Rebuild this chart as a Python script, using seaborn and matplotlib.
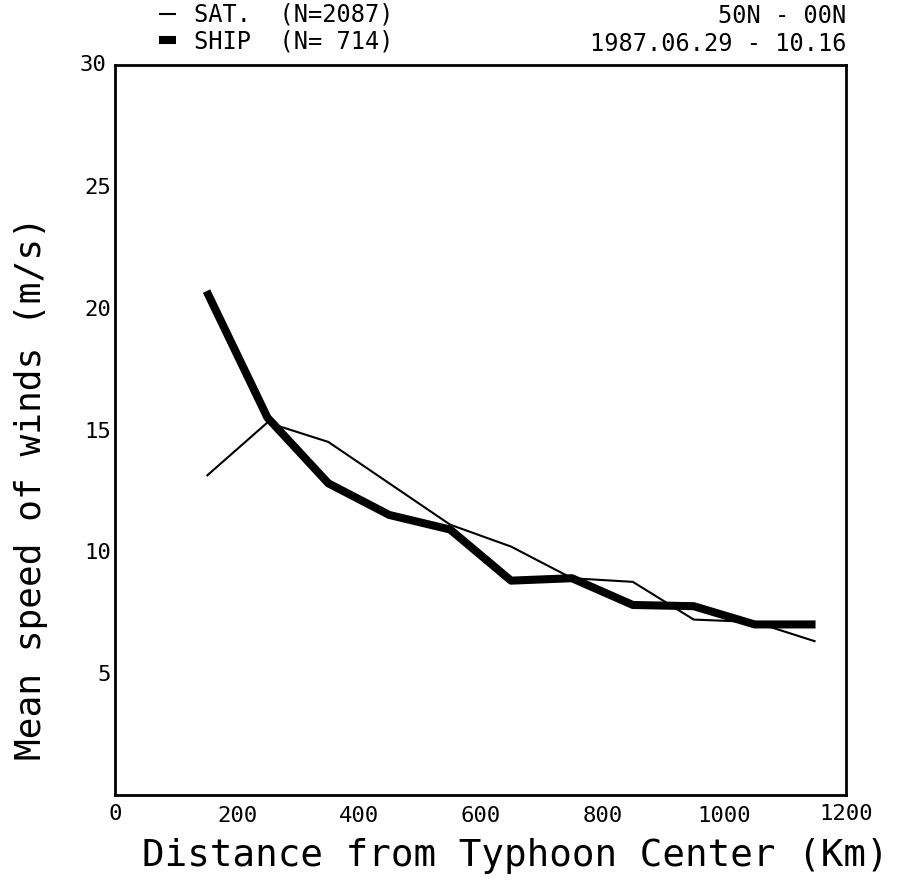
import matplotlib
matplotlib.use("Agg")
import matplotlib.pyplot as plt
import pandas as pd
import seaborn as sns

# mean wind speed vs distance from typhoon centre
distance_km = [150, 250, 350, 450, 550, 650, 750, 850, 950, 1050, 1150]
sat_speed = [13.1, 15.3, 14.5, 12.8, 11.1, 10.2, 8.9, 8.75, 7.2, 7.1, 6.3]
ship_speed = [20.7, 15.5, 12.8, 11.5, 10.9, 8.8, 8.9, 7.8, 7.75, 7.0, 7.0]

sat_label = "SAT.  (N=2087)"
ship_label = "SHIP  (N= 714)"
region_text = "50N - 00N"
period_text = "1987.06.29 - 10.16"

x_ticks = [200, 400, 600, 800, 1000]
x_ticklabels = ["200", "400", "600", "800", "1000"]
y_ticks = [5, 10, 15, 20, 25]

sns.set_theme(style="white")
plt.rcParams["font.family"] = ["DejaVu Sans Mono", "DejaVu Sans"]
plt.rcParams["text.color"] = "black"
plt.rcParams["axes.labelcolor"] = "black"
plt.rcParams["lines.solid_capstyle"] = "butt"

df = pd.DataFrame({"distance": distance_km, "sat": sat_speed, "ship": ship_speed})

fig = plt.figure(figsize=(9, 8.88), dpi=100)
ax = fig.add_axes([0.128, 0.105, 0.812, 0.822])

sns.lineplot(data=df, x="distance", y="sat", color="black", linewidth=1.5,
             label=sat_label, ax=ax)
sns.lineplot(data=df, x="distance", y="ship", color="black", linewidth=5.8,
             label=ship_label, ax=ax)

ax.set_xlim(0, 1200)
ax.set_ylim(0, 30)
ax.set_xticks(x_ticks)
ax.set_xticklabels(x_ticklabels)
ax.set_yticks(y_ticks)
ax.tick_params(axis="x", direction="in", length=20, width=1.5, labelsize=16, pad=8,
               colors="black")
ax.tick_params(axis="y", direction="in", length=14, width=1.5, labelsize=16, pad=3,
               colors="black")
for side in ["left", "right", "top", "bottom"]:
    ax.spines[side].set_color("black")
    ax.spines[side].set_linewidth(2)

# end labels outside the tick set
ax.text(0, -0.012, "0", transform=ax.get_xaxis_transform(), ha="center", va="top",
        fontsize=16)
ax.text(1200, -0.012, "1200", transform=ax.get_xaxis_transform(), ha="center", va="top",
        fontsize=16)
ax.text(-0.012, 1.0, "30", transform=ax.transAxes, ha="right", va="center", fontsize=16)

ax.set_xlabel("Distance from Typhoon Center (Km)", fontsize=27)
ax.set_ylabel("Mean speed of winds (m/s)", fontsize=26)
ax.xaxis.set_label_coords(0.547, -0.059)
ax.yaxis.set_label_coords(-0.092, 0.42)

ax.legend(loc="lower left", bbox_to_anchor=(0.06, 1.016), frameon=False,
          fontsize=17, handlelength=0.7, handletextpad=0.8, labelspacing=0.1,
          borderpad=0, borderaxespad=0)

ax.text(1.0, 1.05, region_text, transform=ax.transAxes, ha="right", va="bottom",
        fontsize=17)
ax.text(1.0, 1.012, period_text, transform=ax.transAxes, ha="right", va="bottom",
        fontsize=17)

fig.savefig("out.png", dpi=100)
plt.close(fig)
